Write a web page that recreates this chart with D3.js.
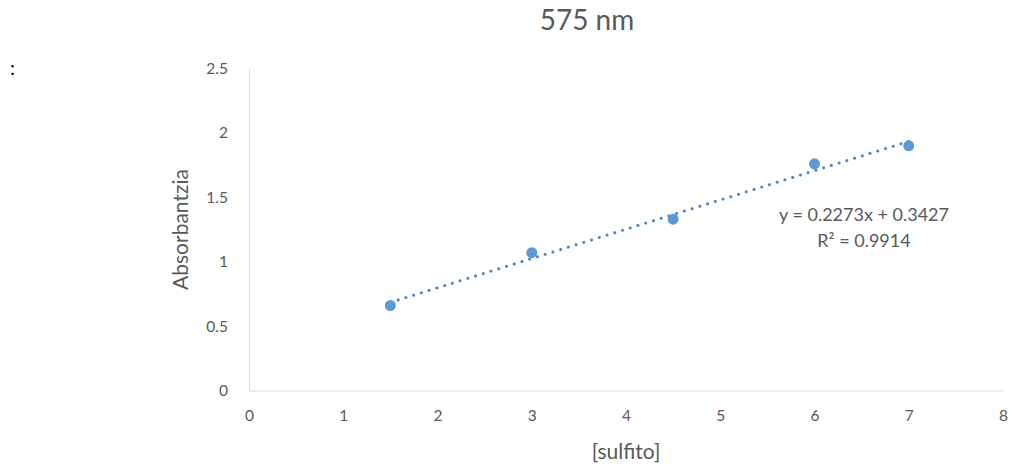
<!DOCTYPE html>
<html>
<head>
<meta charset="utf-8">
<script src="https://cdn.jsdelivr.net/npm/d3@7"></script>
<style>
  html, body { margin: 0; padding: 0; background: #fff; }
  svg { display: block; font-family: "Lato", "Liberation Sans", sans-serif; }
</style>
</head>
<body>
<svg id="chart" width="1015" height="467"></svg>
<script>
// Sulfite calibration at 575 nm
const concentrations = [1.5, 3, 4.5, 6, 7];
const absorbances = [0.66, 1.07, 1.33, 1.76, 1.90];
const xTicks = [0, 1, 2, 3, 4, 5, 6, 7, 8];
const yTicks = [0, 0.5, 1, 1.5, 2, 2.5];
const fitSlope = 0.2273;
const fitIntercept = 0.3427;
const fitR2 = 0.9914;

const svg = d3.select("#chart");
const plot = { left: 249, right: 1003, top: 68.5, bottom: 390.5 };

const x = d3.scaleLinear().domain([0, 8]).range([plot.left, plot.right]);
const y = d3.scaleLinear().domain([0, 2.5]).range([plot.bottom, plot.top]);

const axisColor = "#d9d9d9";
const textColor = "#595959";

// stray colon in the top-left corner
svg.append("text").attr("x", 10).attr("y", 75)
  .attr("font-size", 20).attr("fill", "#000").text(":");

// title
svg.append("text").attr("x", 587).attr("y", 30)
  .attr("text-anchor", "middle").attr("font-size", 28).attr("fill", textColor)
  .text("575 nm");

// axes
const xAxis = svg.append("g").attr("transform", `translate(0,${plot.bottom})`)
  .call(d3.axisBottom(x).tickValues(xTicks).tickSize(0).tickPadding(19).tickFormat(d3.format("d")));
const yAxis = svg.append("g").attr("transform", `translate(${plot.left},0)`)
  .call(d3.axisLeft(y).tickValues(yTicks).tickSize(0).tickPadding(21).tickFormat(d => String(d)));

[xAxis, yAxis].forEach(g => {
  g.select(".domain").attr("stroke", axisColor).attr("stroke-width", 1);
  g.selectAll("text").attr("fill", textColor).attr("font-size", 15.5)
    .attr("font-family", "Lato, 'Liberation Sans', sans-serif");
});

// axis titles
svg.append("text").attr("x", x(4)).attr("y", 459)
  .attr("text-anchor", "middle").attr("font-size", 21).attr("fill", textColor)
  .text("[sulfito]");
svg.append("text")
  .attr("transform", `translate(188,${y(1.25)}) rotate(-90)`)
  .attr("text-anchor", "middle").attr("font-size", 21).attr("fill", textColor)
  .text("Absorbantzia");

// linear trendline across the measured range
const xMin = d3.min(concentrations), xMax = d3.max(concentrations);
svg.append("line")
  .attr("x1", x(xMin)).attr("y1", y(fitSlope * xMin + fitIntercept))
  .attr("x2", x(xMax)).attr("y2", y(fitSlope * xMax + fitIntercept))
  .attr("stroke", "#4f86c4").attr("stroke-width", 3)
  .attr("stroke-linecap", "round").attr("stroke-dasharray", "0.1 8");

// data points
svg.append("g").selectAll("circle")
  .data(concentrations.map((c, i) => ({ c, a: absorbances[i] })))
  .join("circle")
  .attr("cx", d => x(d.c)).attr("cy", d => y(d.a))
  .attr("r", 5.5).attr("fill", "#5b9bd5");

// fit equation
const eq = svg.append("text").attr("font-size", 18).attr("fill", textColor)
  .attr("text-anchor", "middle");
eq.append("tspan").attr("x", 864).attr("y", 221)
  .text(`y = ${fitSlope}x + ${fitIntercept}`);
eq.append("tspan").attr("x", 864).attr("y", 247)
  .text(`R² = ${fitR2}`);
</script>
</body>
</html>
